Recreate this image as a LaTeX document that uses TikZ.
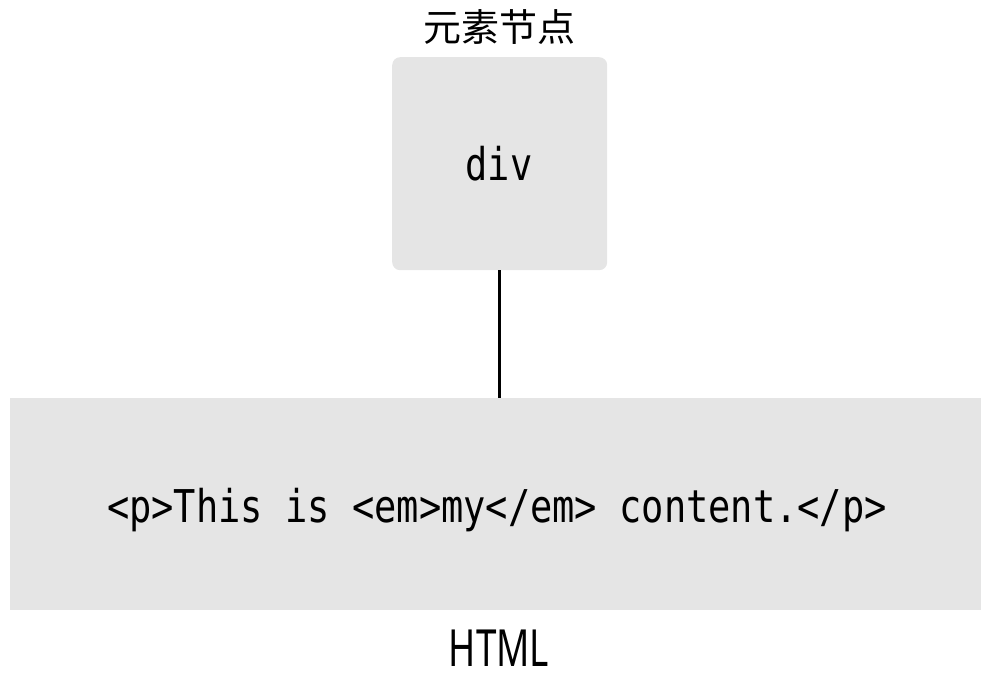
\documentclass[tikz,border=0pt]{standalone}
\usepackage{fontspec}
\setmainfont{Noto Sans}
\setmonofont{DejaVu Sans Mono}
\newfontfamily\cjk{Noto Sans CJK SC}
\definecolor{boxgray}{HTML}{E5E5E5}
\newcommand{\tallcode}[1]{\scalebox{1}[1.22]{#1}}
\newcommand{\tallsans}[1]{\scalebox{0.92}[1.28]{#1}}
\begin{document}
\begin{tikzpicture}[x=1pt,y=-1pt,
  graybox/.style={fill=boxgray, draw=none, inner sep=0pt, anchor=north west},
  codetext/.style={font=\fontsize{37}{40}\selectfont\ttfamily, text=black, inner sep=0pt, anchor=base},
  labeltext/.style={font=\fontsize{36}{40}\selectfont, text=black},
  link/.style={draw=black, line width=2.5pt}]
\useasboundingbox (0,0) rectangle (981,672);
\node[graybox, rounded corners=8pt, minimum width=215pt, minimum height=213pt] (elem) at (392,57) {};
\node[codetext] (divtxt) at (499,180) {\tallcode{div}};
\node[labeltext, font=\fontsize{38}{42}\selectfont\cjk] (elemlabel) at (499,27) {元素节点};
\node[graybox, minimum width=971pt, minimum height=212pt] (html) at (10,398) {};
\node[codetext] (code) at (497,522) {\tallcode{<p>This is <em>my</em> content.</p>}};
\node[labeltext, font=\fontsize{40}{44}\selectfont, inner sep=0pt, anchor=base] (htmllabel) at (499,666) {\tallsans{HTML}};
\draw[link] (elem.south) -- (elem.south |- html.north);
\end{tikzpicture}
\end{document}
